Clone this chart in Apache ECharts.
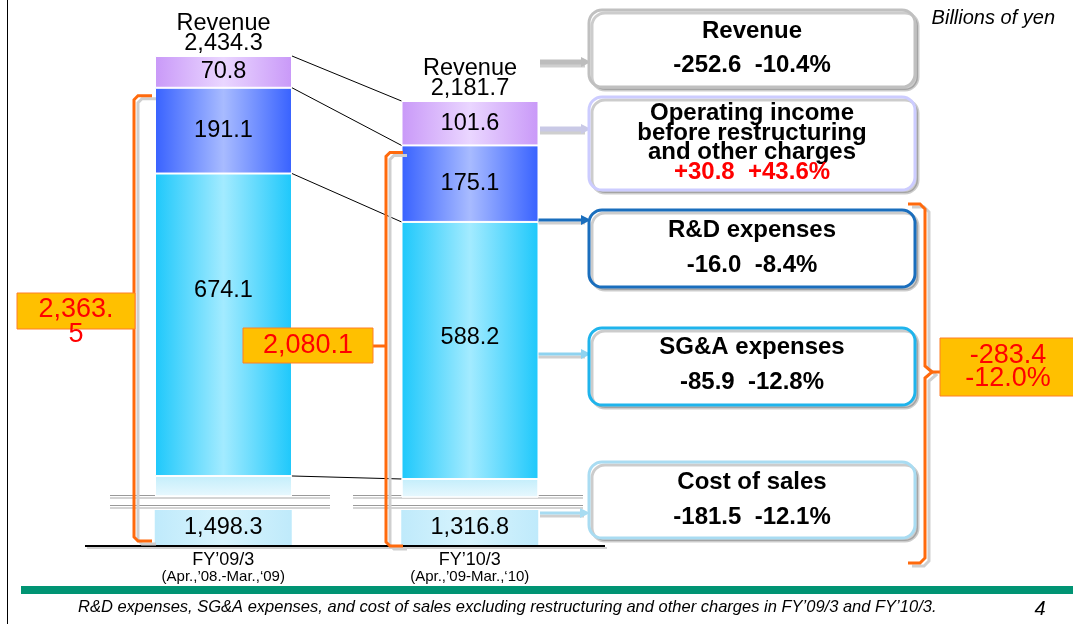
<!DOCTYPE html>
<html>
<head>
<meta charset="utf-8">
<script src="https://cdn.jsdelivr.net/npm/echarts@6/dist/echarts.min.js"></script>
<style>
  html, body { margin: 0; padding: 0; background: #fff; }
  #main { width: 1073px; height: 624px; }
</style>
</head>
<body>
<div id="main"></div>
<script>
// values in billions of yen
const periods = ['FY’09/3', 'FY’10/3']
const periodNotes = ['(Apr.,’08.-Mar.,‘09)', '(Apr.,’09-Mar.,‘10)']
const costOfSales = [1498.3, 1316.8]
const sgaExpenses = [674.1, 588.2]
const rdExpenses = [191.1, 175.1]
const operatingIncome = [70.8, 101.6]
const revenue = [2434.3, 2181.7]

const changeTitles = ['Revenue', 'Operating income\nbefore restructuring\nand other charges', 'R&D expenses', 'SG&A expenses', 'Cost of sales']
const changeValues = ['-252.6  -10.4%', '+30.8  +43.6%', '-16.0  -8.4%', '-85.9  -12.8%', '-181.5  -12.1%']
const expenseChange = ['-283.4', '-12.0%']

const FONT = '"Liberation Sans", Arial, sans-serif'

const fmt = v => {
  const [a, b] = v.toFixed(1).split('.')
  return a.replace(/\B(?=(\d{3})+(?!\d))/g, ',') + '.' + b
}

const hGrad = (edge, mid) => new echarts.graphic.LinearGradient(0, 0, 1, 0, [
  { offset: 0, color: edge }, { offset: 0.5, color: mid }, { offset: 1, color: edge }
])

const chart = echarts.init(document.getElementById('main'))

// upper part of each bar gets its own grid, the axis is cut below the cost of sales top
const upperWindows = [[1453.7, 2434.3], [1275.6, 2181.7]]

const grids = [
  { left: 100, width: 247, top: 56, bottom: 128 },
  { left: 346.5, width: 247, top: 101, bottom: 127 },
  { left: 100, width: 493, top: 510, bottom: 79 }
]

const xAxes = [0, 1].map(i => ({
  type: 'category', gridIndex: i, data: [periods[i]], show: false
}))
xAxes.push({
  type: 'category', gridIndex: 2, data: periods,
  axisLine: { show: false }, axisTick: { show: false },
  axisLabel: {
    margin: 7,
    formatter: (v, i) => `{a|${v}}\n{b|${periodNotes[i]}}`,
    rich: {
      a: { fontFamily: FONT, fontSize: 18, color: '#000', lineHeight: 17 },
      b: { fontFamily: FONT, fontSize: 15, color: '#000', lineHeight: 16 }
    }
  }
})

const yAxes = [0, 1].map(i => ({
  type: 'value', gridIndex: i, min: upperWindows[i][0], max: upperWindows[i][1], show: false
}))
yAxes.push({ type: 'value', gridIndex: 2, min: 0, max: 78, show: false })

const valueLabel = {
  show: true, position: 'inside', fontFamily: FONT, fontSize: 23.5, color: '#000'
}

const series = []
for (let i = 0; i < 2; i++) {
  const base = { type: 'bar', xAxisIndex: i, yAxisIndex: i, stack: 's' + i, barWidth: 137, clip: true, silent: true }
  series.push({
    ...base, name: 'Cost of sales', data: [costOfSales[i]],
    itemStyle: {
      color: new echarts.graphic.LinearGradient(0, 0, 0, 1, [
        { offset: 0, color: '#c4eefb' }, { offset: 1, color: '#e8f8fe' }
      ]),
      borderColor: '#fff', borderWidth: 1
    }
  })
  series.push({
    ...base, name: 'SG&A expenses', data: [sgaExpenses[i]],
    itemStyle: { color: hGrad('#1ec8fb', '#a3ebff'), borderColor: '#fff', borderWidth: 1 },
    label: { ...valueLabel, offset: [0, i === 0 ? -34 : -13], formatter: p => fmt(p.value) }
  })
  series.push({
    ...base, name: 'R&D expenses', data: [rdExpenses[i]],
    itemStyle: { color: hGrad('#3862ff', '#a8bbff'), borderColor: '#fff', borderWidth: 1 },
    label: { ...valueLabel, formatter: p => fmt(p.value) }
  })
  series.push({
    ...base, name: 'Operating income', data: [operatingIncome[i]],
    itemStyle: { color: hGrad('#c999f8', '#ead6ff'), borderColor: '#fff', borderWidth: 1 },
    label: { ...valueLabel, formatter: p => fmt(p.value) }
  })
  series.push({
    ...base, name: 'Revenue', data: [0],
    itemStyle: { color: 'rgba(0,0,0,0)', borderWidth: 0 },
    label: {
      show: true, position: 'top', distance: 2, fontFamily: FONT, fontSize: 23.5,
      color: '#000', lineHeight: 20, formatter: () => 'Revenue\n' + fmt(revenue[i])
    }
  })
}
// bottom stub of the cost of sales, below the axis break
series.push({
  type: 'bar', name: 'Cost of sales', xAxisIndex: 2, yAxisIndex: 2, barWidth: 137, clip: true, silent: true,
  data: costOfSales,
  itemStyle: { color: hGrad('#bfeafb', '#d8f4fd') },
  label: { ...valueLabel, position: 'insideBottom', distance: 5, formatter: p => fmt(p.value) }
})

chart.setOption({
  animation: false,
  grid: grids,
  xAxis: xAxes,
  yAxis: yAxes,
  series: series
})

// ---------- annotations ----------
const px = (i, v) => chart.convertToPixel({ xAxisIndex: i, yAxisIndex: i }, [periods[i], v])
const half = 68.5

const levels = [0, 1].map(i => {
  const a = costOfSales[i]
  const b = a + sgaExpenses[i]
  const c = b + rdExpenses[i]
  return [a, b, c, c + operatingIncome[i]]
})
const expenses = [0, 1].map(i => costOfSales[i] + sgaExpenses[i] + rdExpenses[i])

const g = []

// page frame, band and texts
g.push({ type: 'line', shape: { x1: 7.5, y1: 0, x2: 7.5, y2: 624 }, style: { stroke: '#000', lineWidth: 1 } })
g.push({ type: 'rect', shape: { x: 21, y: 586, width: 1052, height: 8 }, style: { fill: '#009473' } })
g.push({ type: 'text', x: 78, y: 607, style: {
  text: 'R&D expenses, SG&A expenses, and cost of sales excluding restructuring and other charges in FY’09/3 and FY’10/3.',
  font: 'italic 16.5px ' + FONT, fill: '#000', verticalAlign: 'middle' } })
g.push({ type: 'text', x: 1040, y: 609, style: { text: '4', font: 'italic 20px ' + FONT, fill: '#000', align: 'center', verticalAlign: 'middle' } })
g.push({ type: 'text', x: 1055, y: 18, style: { text: 'Billions of yen', font: 'italic 20px ' + FONT, fill: '#000', align: 'right', verticalAlign: 'middle' } })

// baseline
g.push({ type: 'line', shape: { x1: 87, y1: 548, x2: 607, y2: 548 }, style: { stroke: '#d0d0d0', lineWidth: 2 } })
g.push({ type: 'line', shape: { x1: 85, y1: 546, x2: 605, y2: 546 }, style: { stroke: '#000', lineWidth: 2 } })

// axis break marks
;[[110, 330], [353, 583]].forEach(([a, b]) => {
  ;[495.5, 505.5].forEach(y => {
    g.push({ type: 'line', shape: { x1: a, y1: y, x2: b, y2: y }, style: { stroke: '#9a9a9a', lineWidth: 1 } })
    g.push({ type: 'line', shape: { x1: a, y1: y + 2.5, x2: b, y2: y + 2.5 }, style: { stroke: '#d4d4d4', lineWidth: 2 } })
  })
})

// lines between the two bars
levels[0].forEach((v, k) => {
  const p1 = px(0, v)
  const p2 = px(1, levels[1][k])
  g.push({ type: 'line', shape: { x1: p1[0] + half, y1: p1[1], x2: p2[0] - half, y2: p2[1] }, style: { stroke: '#000', lineWidth: 1 } })
})

// brackets
const bracket = (pts, z) => {
  g.push({ type: 'polyline', shape: { points: pts.map(p => [p[0] + 4, p[1] + 3]) }, style: { stroke: '#cfcfcf', lineWidth: 3, fill: null }, z: z })
  g.push({ type: 'polyline', shape: { points: pts }, style: { stroke: '#ff6a0d', lineWidth: 3, fill: null }, z: z + 1 })
}
const t1 = px(0, expenses[0])[1] + 8
const t2 = px(1, expenses[1])[1] + 7
bracket([[152, t1], [138, t1], [134, t1 + 4], [134, 537], [138, 541], [152, 541]], 10)
bracket([[403, t2], [390, t2], [386, t2 + 4], [386, 542], [390, 546], [403, 546]], 10)
bracket([[908, 204], [920, 204], [925, 209], [925, 366], [932, 372], [925, 378], [925, 558], [920, 563], [908, 563]], 10)
g.push({ type: 'line', shape: { x1: 372, y1: 346, x2: 386, y2: 346 }, style: { stroke: '#ff6a0d', lineWidth: 3 }, z: 11 })
g.push({ type: 'line', shape: { x1: 930, y1: 372, x2: 940, y2: 372 }, style: { stroke: '#ff6a0d', lineWidth: 3 }, z: 11 })

// total expense boxes
const orangeBox = (x, y, w, h, text, lh, cx, cy) => {
  g.push({ type: 'rect', shape: { x, y, width: w, height: h }, style: { fill: '#ffc000', stroke: '#ff7f27', lineWidth: 1 }, z: 12 })
  g.push({ type: 'text', x: cx, y: cy, style: { text, font: '27px ' + FONT, fill: '#ff0000', align: 'center', verticalAlign: 'middle', lineHeight: lh }, z: 13 })
}
orangeBox(17, 293, 118, 36, fmt(expenses[0]).replace('.', '.\n'), 25, 76, 322)
orangeBox(243, 328, 130, 35, fmt(expenses[1]), 27, 308, 346)
orangeBox(940, 338, 140, 58, expenseChange.join('\n'), 23, 1008, 367)

// arrows to the change boxes
const arrow = (x1, x2, y, color, w) => {
  g.push({ type: 'line', shape: { x1: x1, y1: y + 3, x2: x2 - 6, y2: y + 3 }, style: { stroke: '#cfcfcf', lineWidth: w } })
  g.push({ type: 'line', shape: { x1: x1, y1: y, x2: x2 - 7, y2: y }, style: { stroke: color, lineWidth: w } })
  g.push({ type: 'polygon', shape: { points: [[x2 - 10, y - 5], [x2, y], [x2 - 10, y + 5]] }, style: { fill: color } })
}
arrow(540, 591, 62, '#bdbdbd', 5)
arrow(540, 591, 129, '#c9c9e6', 5)
arrow(538, 591, 220, '#1a6ebd', 3)
arrow(538, 591, 354, '#8fd3f0', 3)
arrow(540, 590, 513, '#a8dcf2', 3)

// change boxes
const boxes = [
  { y: 10, h: 77, stroke: '#c0c0c0', ty: [31, 65] },
  { y: 97, h: 93, stroke: '#ccccff', ty: [133, 172] },
  { y: 210, h: 77, stroke: '#1a6ebd', ty: [230, 265] },
  { y: 328, h: 77, stroke: '#1fb4ec', ty: [347, 382] },
  { y: 462, h: 76, stroke: '#a9dcf2', ty: [482, 517] }
]
boxes.forEach((b, k) => {
  g.push({ type: 'rect', shape: { x: 589, y: b.y, width: 326, height: b.h, r: 13 },
    style: { fill: '#fff', stroke: b.stroke, lineWidth: 3, shadowColor: 'rgba(0,0,0,0.2)', shadowOffsetX: 3, shadowOffsetY: 3 }, z: 5 })
  const textStyle = {
    font: 'bold 24px ' + FONT, align: 'center', verticalAlign: 'middle', lineHeight: 19.5,
    textShadowColor: 'rgba(0,0,0,0.25)', textShadowOffsetX: 1, textShadowOffsetY: 1
  }
  g.push({ type: 'text', x: 752, y: b.ty[0], style: { ...textStyle, text: changeTitles[k], fill: '#000' }, z: 6 })
  g.push({ type: 'text', x: 752, y: b.ty[1], style: { ...textStyle, text: changeValues[k], fill: k === 1 ? '#ff0000' : '#000' }, z: 6 })
})

chart.setOption({ graphic: g })
</script>
</body>
</html>
